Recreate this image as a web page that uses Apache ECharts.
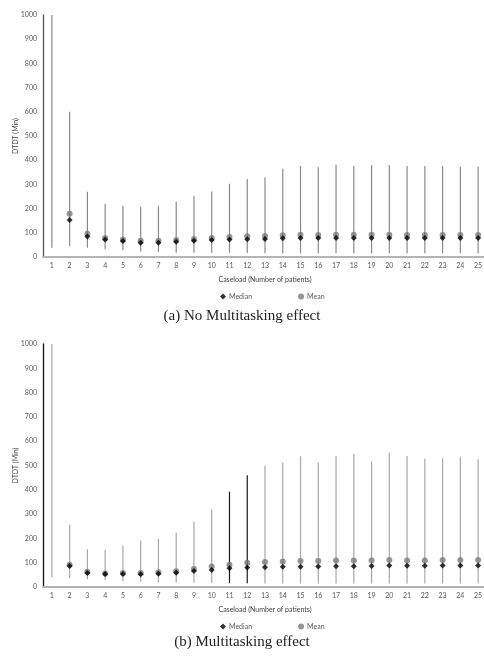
<!DOCTYPE html>
<html>
<head>
<meta charset="utf-8">
<title>DTDT by caseload</title>
<script src="https://cdn.jsdelivr.net/npm/echarts@6/dist/echarts.min.js"></script>
<style>
  html, body { margin: 0; padding: 0; background: #ffffff; }
  #chart { width: 484px; height: 662px; }
</style>
</head>
<body>
<div id="chart"></div>
<script>
// Caseload categories (number of patients)
const caseload = ['1','2','3','4','5','6','7','8','9','10','11','12','13','14','15','16','17','18','19','20','21','22','23','24','25'];
const yTicks = [0, 100, 200, 300, 400, 500, 600, 700, 800, 900, 1000];

// (a) No multitasking effect: DTDT range, mean and median (minutes)
const minA    = [38, 45, 38, 32, 28, 23, 21, 18, 18, 18, 18, 17, 15, 15, 15, 15, 15, 15, 15, 15, 15, 15, 15, 15, 15];
const maxA    = [1000, 600, 270, 220, 212, 207, 212, 229, 251, 271, 303, 322, 328, 365, 376, 372, 381, 376, 380, 380, 376, 376, 376, 373, 373];
const meanA   = [null, 179, 96, 78, 72, 67, 67, 70, 74, 78, 83, 86, 87, 90, 92, 91, 92, 92, 92, 92, 91, 91, 91, 91, 91];
const medianA = [null, 153, 85, 72, 66, 59, 59, 63, 67, 70, 72, 73, 74, 77, 78, 78, 78, 78, 78, 78, 78, 78, 78, 78, 78];

// (b) Multitasking effect: DTDT range, mean and median (minutes)
const minB    = [39, 36, 32, 28, 25, 22, 20, 19, 18, 16, 16, 15, 14, 14, 14, 14, 14, 14, 14, 14, 14, 14, 14, 14, 14];
const maxB    = [1000, 256, 155, 153, 171, 190, 198, 223, 270, 319, 392, 460, 499, 512, 538, 512, 539, 547, 517, 552, 539, 528, 530, 536, 526];
const meanB   = [null, 92, 63, 56, 58, 58, 61, 65, 74, 84, 92, 100, 103, 105, 107, 107, 109, 109, 109, 111, 109, 109, 111, 111, 111];
const medianB = [null, 86, 58, 53, 54, 52, 55, 59, 66, 70, 77, 80, 81, 83, 83, 84, 85, 85, 86, 88, 87, 87, 88, 88, 88];

const captionA = '(a) No Multitasking effect';
const captionB = '(b) Multitasking effect';
const xName = 'Caseload (Number of patients)';
const yName = 'DTDT (Min)';

// ---- styling ----
const SANS = 'Lato, "Open Sans", sans-serif';
const SERIF = '"Liberation Serif", "DejaVu Serif", serif';
const MEAN_COLOR = '#7a7a7a';
const MEDIAN_COLOR = '#000000';

function whiskerSeries(idx, lows, highs, colorFor) {
  return {
    type: 'custom',
    name: 'range',
    xAxisIndex: idx,
    yAxisIndex: idx,
    clip: true,
    silent: true,
    z: 1,
    data: caseload.map((c, i) => [i, lows[i], highs[i]]),
    encode: { x: 0, y: [1, 2] },
    renderItem: function (params, api) {
      const i = api.value(0);
      const lo = api.coord([i, api.value(1)]);
      const hi = api.coord([i, api.value(2)]);
      return {
        type: 'line',
        shape: { x1: lo[0], y1: lo[1], x2: hi[0], y2: hi[1] },
        style: { stroke: colorFor(i), lineWidth: 1.2 }
      };
    }
  };
}

function pointSeries(idx, name, values, symbol, size, color) {
  return {
    type: 'scatter',
    name: name,
    xAxisIndex: idx,
    yAxisIndex: idx,
    symbol: symbol,
    symbolSize: size,
    itemStyle: { color: color },
    z: name === 'Median' ? 3 : 2,
    data: values.map((v, i) => [i, v])
  };
}

function xAxisFor(idx, lineColor) {
  return {
    type: 'category',
    gridIndex: idx,
    data: caseload,
    boundaryGap: true,
    name: xName,
    nameLocation: 'middle',
    nameGap: 19,
    nameMoveOverlap: false,
    nameTextStyle: { fontFamily: SANS, fontSize: 7, color: '#404040' },
    axisLine: { lineStyle: { color: lineColor, width: 2 } },
    axisTick: { show: false },
    axisLabel: { interval: 0, fontFamily: SANS, fontSize: 7, color: '#595959', margin: 5 },
    splitLine: { show: false }
  };
}

function yAxisFor(idx, lineColor) {
  return {
    type: 'value',
    gridIndex: idx,
    min: yTicks[0],
    max: yTicks[yTicks.length - 1],
    interval: 100,
    name: yName,
    nameLocation: 'middle',
    nameRotate: 90,
    nameGap: 24,
    nameMoveOverlap: false,
    nameTextStyle: { fontFamily: SANS, fontSize: 7, color: '#404040' },
    axisLine: { show: true, lineStyle: { color: lineColor, width: 1.3 } },
    axisTick: { show: false },
    axisLabel: { fontFamily: SANS, fontSize: 7, color: '#595959', margin: 6, formatter: (v) => String(v) },
    splitLine: { show: false }
  };
}

function legendFor(idx, top) {
  return {
    left: 215,
    top: top,
    itemGap: 46,
    itemWidth: 6,
    itemHeight: 6,
    textStyle: { fontFamily: SANS, fontSize: 7, color: '#595959', padding: [0, 0, 0, -2] },
    data: [
      { name: 'Median', icon: 'diamond', itemStyle: { color: MEDIAN_COLOR } },
      { name: 'Mean', icon: 'circle', itemStyle: { color: MEAN_COLOR } }
    ]
  };
}

const chart = echarts.init(document.getElementById('chart'), null, { renderer: 'canvas' });

chart.setOption({
  backgroundColor: '#ffffff',
  animation: false,
  grid: [
    { left: 43, top: 15, width: 444, height: 242, containLabel: false, outerBoundsMode: 'none' },
    { left: 43, top: 344, width: 444, height: 243, containLabel: false, outerBoundsMode: 'none' }
  ],
  xAxis: [xAxisFor(0, '#b4b4b4'), xAxisFor(1, '#b4b4b4')],
  yAxis: [yAxisFor(0, '#555555'), yAxisFor(1, '#111111')],
  legend: [legendFor(0, 288), legendFor(1, 618)],
  series: [
    whiskerSeries(0, minA, maxA, () => '#8a8a8a'),
    pointSeries(0, 'Mean', meanA, 'circle', 6, MEAN_COLOR),
    pointSeries(0, 'Median', medianA, 'diamond', 6, MEDIAN_COLOR),
    whiskerSeries(1, minB, maxB, (i) => (i === 10 || i === 11) ? '#1a1a1a' : '#a8a8a8'),
    pointSeries(1, 'Mean', meanB, 'circle', 6, MEAN_COLOR),
    pointSeries(1, 'Median', medianB, 'diamond', 6, MEDIAN_COLOR)
  ],
  graphic: [
    {
      type: 'text', x: 242, y: 316,
      style: { text: captionA, fontFamily: SERIF, fontSize: 15, fill: '#222222', align: 'center', verticalAlign: 'middle' }
    },
    {
      type: 'text', x: 242, y: 642,
      style: { text: captionB, fontFamily: SERIF, fontSize: 15, fill: '#222222', align: 'center', verticalAlign: 'middle' }
    }
  ]
});
</script>
</body>
</html>
